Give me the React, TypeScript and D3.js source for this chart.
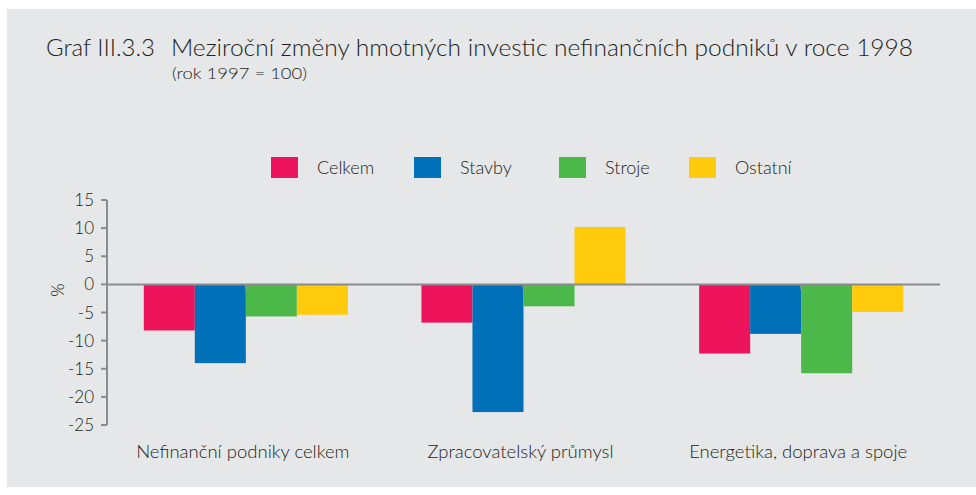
import React from "react";
import * as d3 from "d3";

const categories = ["Nefinanční podniky celkem", "Zpracovatelský průmysl", "Energetika, doprava a spoje"];
const seriesNames = ["Celkem", "Stavby", "Stroje", "Ostatní"];
const celkem = [-8.2, -6.8, -12.3];
const stavby = [-14.0, -22.7, -8.8];
const stroje = [-5.7, -3.9, -15.8];
const ostatni = [-5.4, 10.2, -4.9];
const yTicks = [15, 10, 5, 0, -5, -10, -15, -20, -25];
const colors = ["#ee145b", "#0070b8", "#4cb84a", "#ffcb0c"];
const legendX = [271, 414, 559, 689];

const FONT = "Lato, 'DejaVu Sans', sans-serif";

export default function App() {
  const W = 976, H = 495;
  const values = [celkem, stavby, stroje, ostatni];
  const y = d3.scaleLinear().domain([-25, 15]).range([425, 200]);
  const x0 = d3.scaleBand<string>().domain(categories).range([107, 940]).paddingInner(0.265).paddingOuter(0.1325);
  const x1 = d3.scaleBand<string>().domain(seriesNames).range([0, x0.bandwidth()]);
  const axisColor = "#8a8b8d";
  const textColor = "#231f20";
  return (
    <svg width={W} height={H} style={{ position: "absolute", left: 0, top: 0, display: "block" }} fontFamily={FONT} fontWeight={300}>
      <rect x={0} y={0} width={W} height={H} fill="#ffffff" />
      <rect x={7} y={9} width={W - 7} height={478} fill="#e6e7e8" />
      <text x={46} y={56} fontSize={24} fill={textColor} textLength={109} lengthAdjust="spacingAndGlyphs">Graf III.3.3</text>
      <text x={171} y={56} fontSize={24} fill={textColor} textLength={742} lengthAdjust="spacingAndGlyphs">Meziroční změny hmotných investic nefinančních podniků v roce 1998</text>
      <text x={172} y={79} fontSize={16} fill={textColor} textLength={135} lengthAdjust="spacingAndGlyphs">(rok 1997 = 100)</text>

      {seriesNames.map((s, i) => (
        <g key={s}>
          <rect x={legendX[i]} y={157} width={27} height={21} fill={colors[i]} />
          <text x={legendX[i] + 46} y={174} fontSize={18} fill={textColor}>{s}</text>
        </g>
      ))}

      {categories.map((c, ci) => (
        <g key={c}>
          {seriesNames.map((s, si) => {
            const v = values[si][ci];
            return (
              <rect key={s} x={(x0(c) as number) + (x1(s) as number)} y={y(Math.max(0, v))}
                width={x1.bandwidth()} height={Math.abs(y(v) - y(0))} fill={colors[si]} />
            );
          })}
        </g>
      ))}

      {/* y axis */}
      <line x1={107} x2={107} y1={y(15)} y2={y(-25)} stroke={axisColor} strokeWidth={2} />
      {yTicks.map((t) => (
        <g key={t}>
          <line x1={101} x2={107} y1={y(t)} y2={y(t)} stroke={axisColor} strokeWidth={2} />
          <text x={94} y={y(t) + 6} fontSize={17} textAnchor="end" fill={textColor}>{t}</text>
        </g>
      ))}
      <text transform={`translate(64,${y(-1)}) rotate(-90)`} fontSize={17} textAnchor="middle" fill={textColor}>%</text>

      {/* x axis at zero */}
      <line x1={107} x2={940} y1={y(0)} y2={y(0)} stroke={axisColor} strokeWidth={2} />
      {categories.map((c) => {
        const cx = (x0(c) as number) + x0.bandwidth() / 2;
        return (
          <g key={c}>
            <line x1={cx} x2={cx} y1={y(0)} y2={y(0) + 5} stroke={axisColor} strokeWidth={2} />
            <text x={cx - 3} y={458} fontSize={18.5} textAnchor="middle" fill={textColor}>{c}</text>
          </g>
        );
      })}
    </svg>
  );
}
